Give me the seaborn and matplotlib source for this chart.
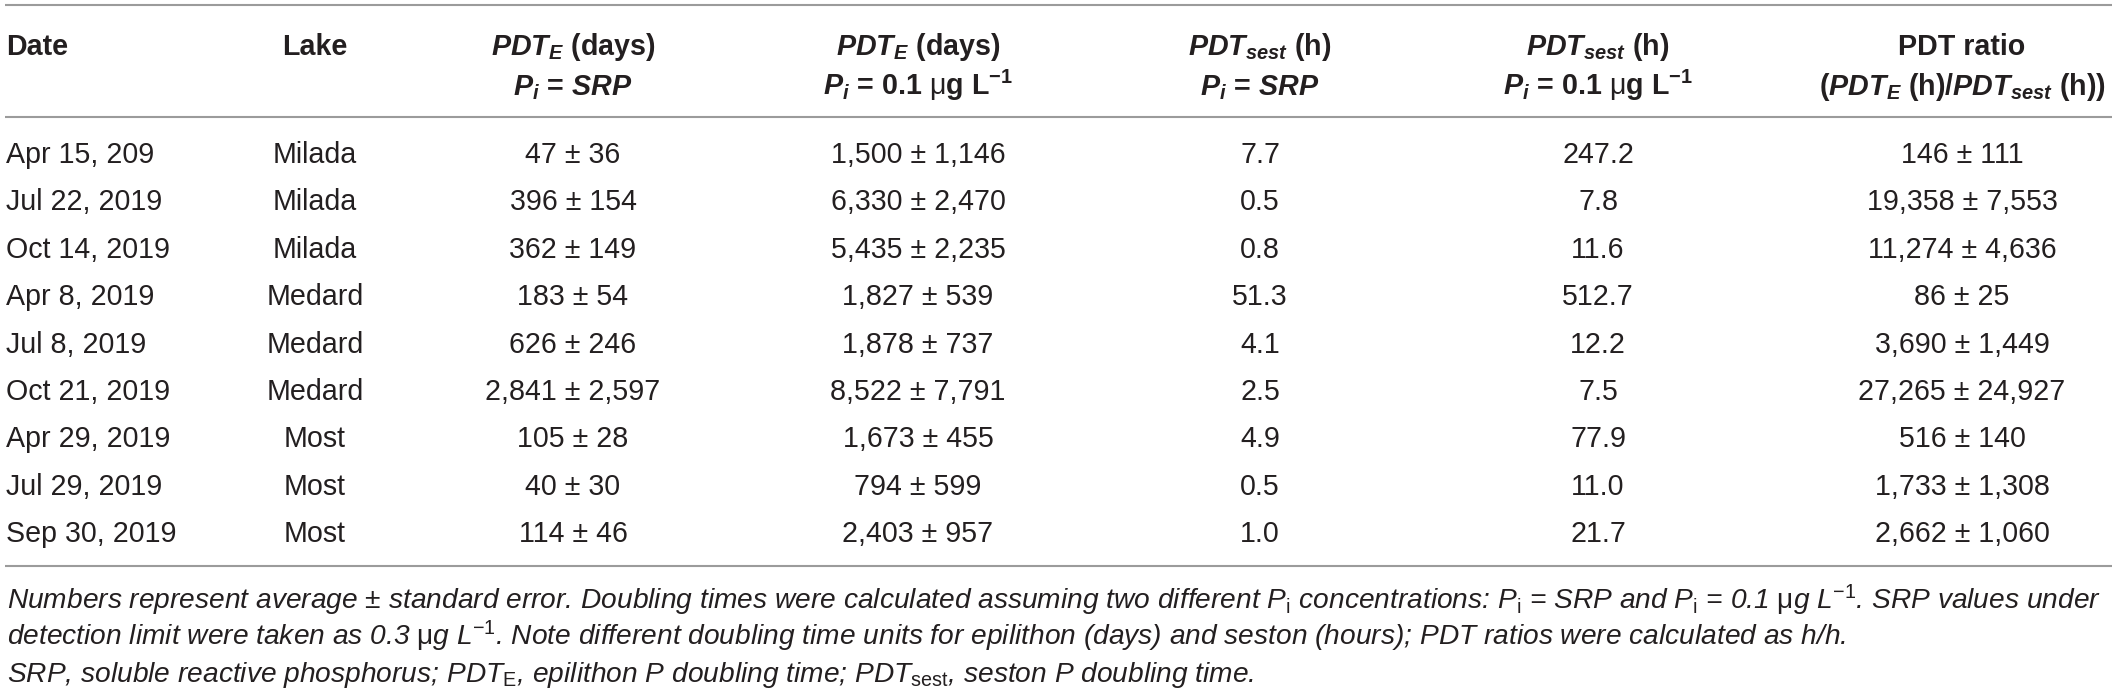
import matplotlib
matplotlib.use("Agg")
import matplotlib.pyplot as plt
import seaborn as sns
import pandas as pd
from matplotlib import font_manager as fm

# ---------------- data ----------------
dates = ["Apr 15, 209", "Jul 22, 2019", "Oct 14, 2019", "Apr 8, 2019", "Jul 8, 2019",
         "Oct 21, 2019", "Apr 29, 2019", "Jul 29, 2019", "Sep 30, 2019"]
lakes = ["Milada", "Milada", "Milada", "Medard", "Medard", "Medard", "Most", "Most", "Most"]
pdte_srp_mean = [47, 396, 362, 183, 626, 2841, 105, 40, 114]
pdte_srp_se = [36, 154, 149, 54, 246, 2597, 28, 30, 46]
pdte_01_mean = [1500, 6330, 5435, 1827, 1878, 8522, 1673, 794, 2403]
pdte_01_se = [1146, 2470, 2235, 539, 737, 7791, 455, 599, 957]
pdtsest_srp = [7.7, 0.5, 0.8, 51.3, 4.1, 2.5, 4.9, 0.5, 1.0]
pdtsest_01 = [247.2, 7.8, 11.6, 512.7, 12.2, 7.5, 77.9, 11.0, 21.7]
ratio_mean = [146, 19358, 11274, 86, 3690, 27265, 516, 1733, 2662]
ratio_se = [111, 7553, 4636, 25, 1449, 24927, 140, 1308, 1060]

header_line1 = ["Date", "Lake", r"$\mathbf{PDT_E}$ (days)", r"$\mathbf{PDT_E}$ (days)",
                r"$\mathbf{PDT_{sest}}$ (h)", r"$\mathbf{PDT_{sest}}$ (h)", "PDT ratio"]
header_line2 = ["", "", r"$\mathbf{P_i}$ = $\mathbf{SRP}$",
                r"$\mathbf{P_i}$ = 0.1 $\mathrm{μ}$g L$^{\mathsf{-1}}$",
                r"$\mathbf{P_i}$ = $\mathbf{SRP}$",
                r"$\mathbf{P_i}$ = 0.1 $\mathrm{μ}$g L$^{\mathsf{-1}}$",
                r"($\mathbf{PDT_E}$ (h)/$\mathbf{PDT_{sest}}$ (h))"]

footnotes = [
    r"Numbers represent average ± standard error. Doubling times were calculated assuming two different "
    r"P$_\mathrm{i}$ concentrations: P$_\mathrm{i}$ = SRP and P$_\mathrm{i}$ = 0.1 $\mathrm{μ}$g L$^{\mathit{-1}}$. SRP values under",
    r"detection limit were taken as 0.3 $\mathrm{μ}$g L$^{\mathit{-1}}$. Note different doubling time units for "
    r"epilithon (days) and seston (hours); PDT ratios were calculated as h/h.",
    r"SRP, soluble reactive phosphorus; PDT$_\mathrm{E}$, epilithon P doubling time; "
    r"PDT$_\mathrm{sest}$, seston P doubling time.",
]

# ---------------- table frame ----------------
def pm(m, s):
    return f"{m:,} ± {s:,}"

df = pd.DataFrame({
    "Date": dates,
    "Lake": lakes,
    "E_srp": [pm(m, s) for m, s in zip(pdte_srp_mean, pdte_srp_se)],
    "E_01": [pm(m, s) for m, s in zip(pdte_01_mean, pdte_01_se)],
    "S_srp": [f"{v:.1f}" for v in pdtsest_srp],
    "S_01": [f"{v:.1f}" for v in pdtsest_01],
    "ratio": [pm(m, s) for m, s in zip(ratio_mean, ratio_se)],
})

# ---------------- style ----------------
sns.set_theme(style="white")
FAM = "Liberation Sans"
names = {f.name for f in fm.fontManager.ttflist}
NARROW = "Liberation Sans Narrow" if "Liberation Sans Narrow" in names else FAM
plt.rcParams["font.family"] = [FAM, "DejaVu Sans"]
plt.rcParams.update({
    "mathtext.fontset": "custom",
    "mathtext.rm": FAM,
    "mathtext.it": FAM + ":italic",
    "mathtext.bf": FAM + ":bold:italic",
    "mathtext.sf": FAM + ":bold",
})

TXT = "#231f20"
RULE = "#9b9b9b"
FS = 20.6

W, H = 2119, 695
fig = plt.figure(figsize=(W / 100, H / 100), dpi=100)
ax = fig.add_axes([0, 0, 1, 1])
ax.set_xlim(0, W)
ax.set_ylim(H, 0)
ax.axis("off")

col_x = [6, 315, 573, 918, 1260, 1598, 1962]
col_ha = ["left"] + ["center"] * 6

# rules
ax.hlines([5, 117, 566], 5, 2112, color=RULE, lw=1.5)

# header
for x, ha, l1, l2 in zip(col_x, col_ha, header_line1, header_line2):
    ax.text(x, 55, l1, ha=ha, va="baseline", fontsize=FS, fontweight="bold", color=TXT)
    if l2:
        ax.text(x, 95, l2, ha=ha, va="baseline", fontsize=FS, fontweight="bold", color=TXT)

# body
row0, step = 163, 47.4
for i, row in enumerate(df.itertuples(index=False)):
    y = row0 + i * step
    for x, ha, val in zip(col_x, col_ha, row):
        ax.text(x, y, val, ha=ha, va="baseline", fontsize=FS, color=TXT)

# footnotes
fn_texts = []
for j, line in enumerate(footnotes):
    t = ax.text(7, 609 + j * 36.5, line, ha="left", va="baseline", fontsize=FS,
                style="italic", color=TXT, family=[NARROW, "DejaVu Sans"])
    fn_texts.append(t)
fig.canvas.draw()
r = fig.canvas.get_renderer()
w0 = fn_texts[0].get_window_extent(r).width
scale = (2105 - 7) / w0
for t in fn_texts:
    t.set_fontsize(FS * scale)

fig.savefig("out.png", dpi=100)
